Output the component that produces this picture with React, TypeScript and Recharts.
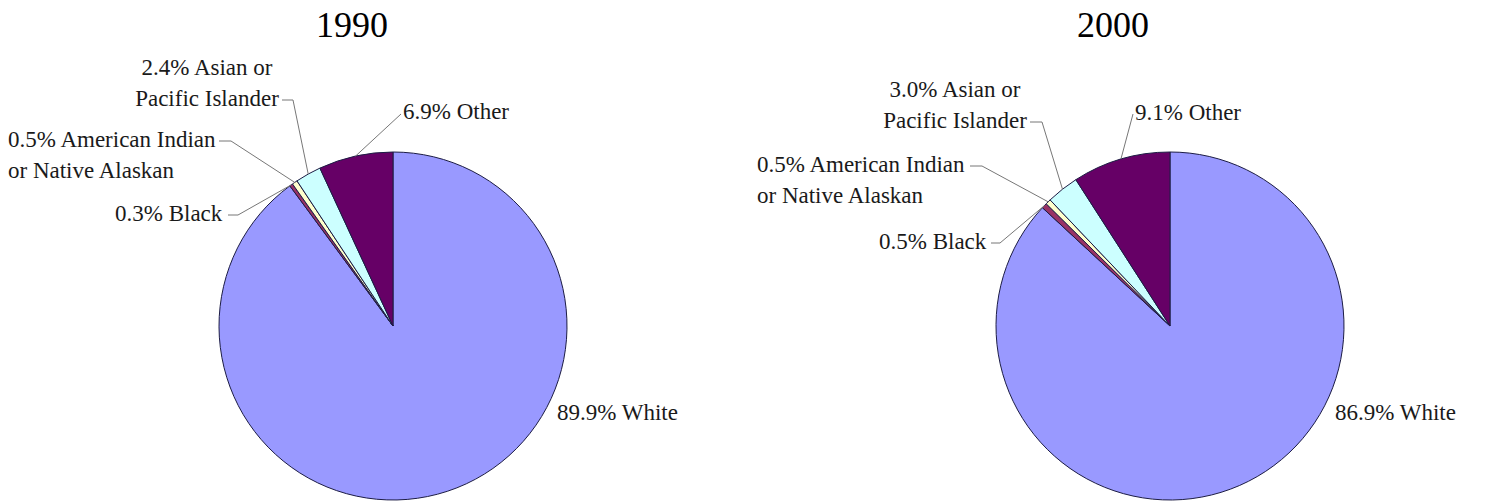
import { Pie, PieChart, Cell } from "recharts";

const CATEGORIES = [
  "White",
  "Black",
  "American Indian or Native Alaskan",
  "Asian or Pacific Islander",
  "Other",
];
// how each category name is broken over lines in the labels
const LABEL_LINES = [
  ["White"],
  ["Black"],
  ["American Indian", "or Native Alaskan"],
  ["Asian or", "Pacific Islander"],
  ["Other"],
];
const SHARE_1990 = [89.9, 0.3, 0.5, 2.4, 6.9];
const SHARE_2000 = [86.9, 0.5, 0.5, 3.0, 9.1];
const YEARS = ["1990", "2000"];

const COLORS = ["#9999ff", "#993366", "#ffffcc", "#ccffff", "#660066"];

const W = 1485;
const H = 501;
const R = 174;
const FONT = '"Liberation Serif", "Times New Roman", serif';
const LINE_H = 31;

type LabelPos = {
  x: number;
  y: number;
  anchor: "start" | "middle" | "end";
  leader?: number[][];
};

// label placement for each slice, in chart pixels
const LAYOUT_1990: LabelPos[] = [
  { x: 557, y: 420, anchor: "start" },
  { x: 115, y: 221, anchor: "start", leader: [[228, 215], [238, 215]] },
  { x: 8, y: 147, anchor: "start", leader: [[219, 141], [231, 141]] },
  { x: 207, y: 75, anchor: "middle", leader: [[282, 100], [293, 100]] },
  { x: 403, y: 119, anchor: "start", leader: [[401, 114]] },
];
const LAYOUT_2000: LabelPos[] = [
  { x: 1335, y: 420, anchor: "start" },
  { x: 879, y: 249, anchor: "start", leader: [[991, 243], [1000, 243]] },
  { x: 757, y: 172, anchor: "start", leader: [[970, 166], [982, 166]] },
  { x: 955, y: 97, anchor: "middle", leader: [[1030, 122], [1042, 122]] },
  { x: 1135, y: 120, anchor: "start", leader: [[1133, 114]] },
];

const toRows = (shares: number[]) =>
  CATEGORIES.map((name, i) => ({ name, value: shares[i] }));

const RAD = Math.PI / 180;

function makeLabel(layout: LabelPos[]) {
  return (props: any) => {
    const { cx, cy, midAngle, outerRadius, index, value } = props;
    const pos = layout[index];
    if (!pos) return null;
    const ex = cx + outerRadius * Math.cos(-midAngle * RAD);
    const ey = cy + outerRadius * Math.sin(-midAngle * RAD);
    const lines = LABEL_LINES[index].map((t, j) =>
      j === 0 ? `${Number(value).toFixed(1)}% ${t}` : t,
    );
    return (
      <g key={`lbl-${index}`}>
        <text
          x={pos.x}
          y={pos.y}
          textAnchor={pos.anchor}
          fontFamily={FONT}
          fontSize={23}
          fill="#1a1a1a"
        >
          {lines.map((l, j) => (
            <tspan key={j} x={pos.x} dy={j === 0 ? 0 : LINE_H}>
              {l}
            </tspan>
          ))}
        </text>
        {pos.leader && (
          <polyline
            points={[...pos.leader, [ex, ey]].map((p) => p.join(",")).join(" ")}
            fill="none"
            stroke="#777"
            strokeWidth={1}
          />
        )}
      </g>
    );
  };
}

const titleStyle = (cx: number): React.CSSProperties => ({
  position: "absolute",
  left: cx - 100,
  top: 8,
  width: 200,
  textAlign: "center",
  fontFamily: FONT,
  fontSize: 36,
  lineHeight: "35px",
  color: "#000",
});

export default function App() {
  return (
    <div style={{ position: "relative", width: W, height: H, background: "#fff" }}>
      <style>{`body{margin:0}`}</style>
      <div style={titleStyle(352)}>{YEARS[0]}</div>
      <div style={titleStyle(1113)}>{YEARS[1]}</div>
      <PieChart width={W} height={H} margin={{ top: 0, right: 0, bottom: 0, left: 0 }}>
        <Pie
          data={toRows(SHARE_1990)}
          dataKey="value"
          nameKey="name"
          cx={393}
          cy={326}
          outerRadius={R}
          startAngle={90}
          endAngle={-270}
          stroke="#1c1c44"
          strokeWidth={1}
          label={makeLabel(LAYOUT_1990)}
          labelLine={false}
          isAnimationActive={false}
        >
          {SHARE_1990.map((_, i) => (
            <Cell key={i} fill={COLORS[i]} />
          ))}
        </Pie>
        <Pie
          data={toRows(SHARE_2000)}
          dataKey="value"
          nameKey="name"
          cx={1170}
          cy={326}
          outerRadius={R}
          startAngle={90}
          endAngle={-270}
          stroke="#1c1c44"
          strokeWidth={1}
          label={makeLabel(LAYOUT_2000)}
          labelLine={false}
          isAnimationActive={false}
        >
          {SHARE_2000.map((_, i) => (
            <Cell key={i} fill={COLORS[i]} />
          ))}
        </Pie>
      </PieChart>
    </div>
  );
}
